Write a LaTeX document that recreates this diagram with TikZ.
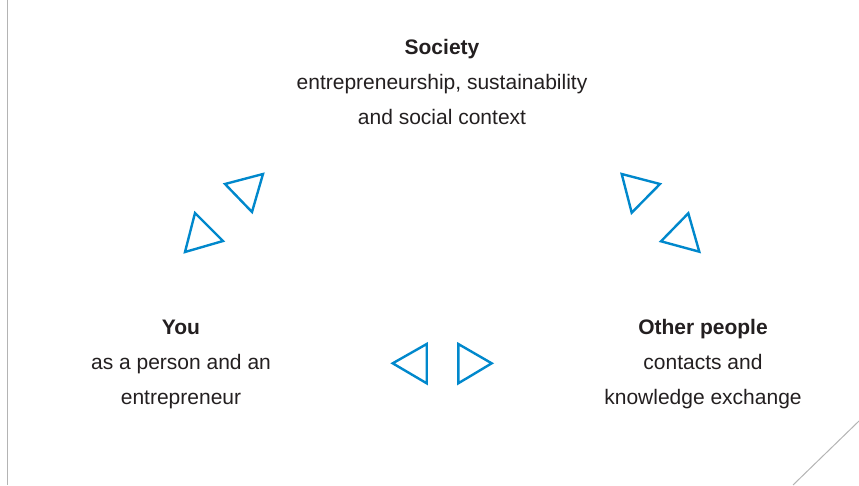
\documentclass[tikz,border=0pt]{standalone}
\usepackage{fontspec}
\setmainfont{Liberation Sans}
\definecolor{triblue}{RGB}{0,136,204}
\definecolor{txt}{RGB}{35,31,32}
\definecolor{rule}{RGB}{180,180,180}
\begin{document}
\begin{tikzpicture}[x=1pt,y=-1pt,
  tri/.style={draw=triblue,line width=2.4pt,line join=miter},
  lbl/.style={align=center,inner sep=0pt,anchor=base,text=txt,font=\fontsize{21}{35}\selectfont},
  frame/.style={draw=rule,line width=1pt}]
\useasboundingbox (0,0) rectangle (859,485);
% frame lines
\coordinate (lt) at (7.5,0);
\coordinate (lb) at (7.5,485);
\draw[frame] (lt) -- (lb);
\coordinate (dt) at (859,421);
\coordinate (db) at (793,485);
\draw[frame] (dt) -- (db);
% labels
\node[lbl] (soc) at (442,54.5) {\textbf{Society}};
\node[lbl] (soc2) at (442,89.5) {entrepreneurship, sustainability};
\node[lbl] (soc3) at (442,124.5) {and social context};
\node[lbl] (you) at (181,334.5) {\textbf{You}};
\node[lbl] (you2) at (181,369.5) {as a person and an};
\node[lbl] (you3) at (181,404.5) {entrepreneur};
\node[lbl] (oth) at (703,334.5) {\textbf{Other people}};
\node[lbl] (oth2) at (703,369.5) {contacts and};
\node[lbl] (oth3) at (703,404.5) {knowledge exchange};
% triangles
\draw[tri] (225,184) -- (263,174) -- (252,212) -- cycle;
\draw[tri] (195,213) -- (223,241) -- (185,252) -- cycle;
\draw[tri] (621.7,174) -- (660,184) -- (631.7,212.7) -- cycle;
\draw[tri] (688.3,213.3) -- (699.3,251.7) -- (661,241.3) -- cycle;
\draw[tri] (426.7,344) -- (392.7,363.3) -- (426.7,383.3) -- cycle;
\draw[tri] (458.3,344) -- (491.7,363.3) -- (458.3,383.3) -- cycle;
\end{tikzpicture}
\end{document}
